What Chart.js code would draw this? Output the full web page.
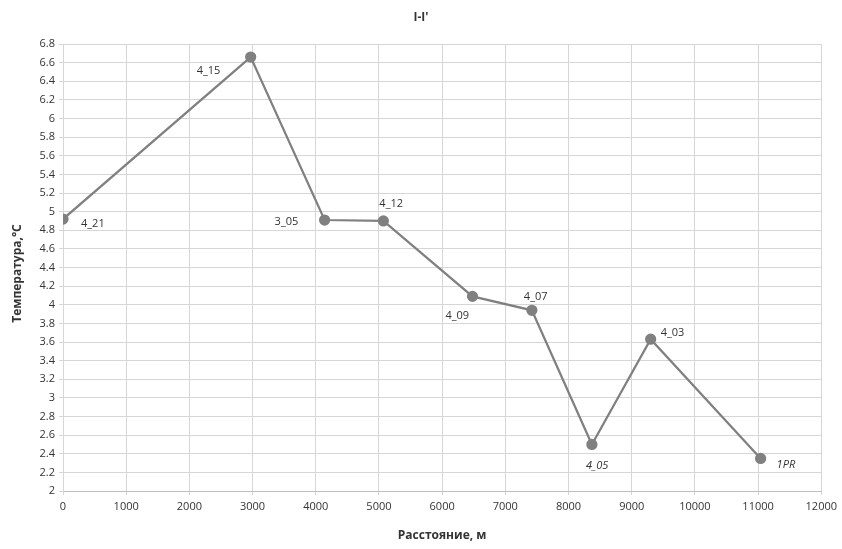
<!DOCTYPE html>
<html>
<head>
<meta charset="utf-8">
<script src="https://cdn.jsdelivr.net/npm/chart.js@4"></script>
<style>
  html, body { margin: 0; padding: 0; background: #fff; }
  #wrap { width: 842px; height: 549px; position: relative; }
</style>
</head>
<body>
<div id="wrap"><canvas id="chart-profile"></canvas></div>
<script>
// profile I-I'
const wellNames = ["4_21", "4_15", "3_05", "4_12", "4_09", "4_07", "4_05", "4_03", "1PR"];
const distances = [0, 2970, 4140, 5070, 6480, 7420, 8370, 9300, 11040];
const temperatures = [4.92, 6.66, 4.91, 4.90, 4.09, 3.94, 2.50, 3.63, 2.35];

// where each name sits relative to its point
const labelPlace = [
  { dx: 18, dy: 5, italic: false },
  { dx: -54, dy: 14, italic: false },
  { dx: -50, dy: 2, italic: false },
  { dx: -4, dy: -17, italic: false },
  { dx: -27, dy: 19, italic: false },
  { dx: -8, dy: -13, italic: false },
  { dx: -6, dy: 21, italic: true },
  { dx: 10, dy: -6, italic: false },
  { dx: 16, dy: 6, italic: true },
];

const FONT = "'Open Sans', 'Liberation Sans', sans-serif";
const GRID = "#d6d6d6";
const LINE = "#808080";
const TEXT = "#333333";

function el(id) {
  return document.getElementById(id);
}

const pointLabels = {
  id: "pointLabels",
  afterDatasetsDraw(chart) {
    const ctx = chart.ctx;
    const meta = chart.getDatasetMeta(0);
    ctx.save();
    ctx.fillStyle = TEXT;
    ctx.textBaseline = "middle";
    ctx.textAlign = "left";
    meta.data.forEach((pt, i) => {
      const p = labelPlace[i];
      ctx.font = (p.italic ? "italic " : "") + "11px " + FONT;
      ctx.fillText(wellNames[i], pt.x + p.dx, pt.y + p.dy);
    });
    ctx.restore();
  },
};

const titles = {
  id: "titles",
  afterDraw(chart) {
    const ctx = chart.ctx;
    const a = chart.chartArea;
    ctx.save();
    ctx.fillStyle = TEXT;
    ctx.textAlign = "center";
    ctx.textBaseline = "middle";
    ctx.font = "bold 12px " + FONT;
    ctx.fillText("I-I'", 421, 18);
    ctx.fillText("Расстояние, м", (a.left + a.right) / 2, 536);
    ctx.translate(18, (a.top + a.bottom) / 2 + 6);
    ctx.rotate(-Math.PI / 2);
    ctx.fillText("Температура,°C", 0, 0);
    ctx.restore();
  },
};

function initChart() {
  const ctx = el("chart-profile").getContext("2d");
  return new Chart(ctx, {
    type: "scatter",
    data: {
      datasets: [
        {
          data: distances.map((d, i) => ({ x: d, y: temperatures[i] })),
          showLine: true,
          borderColor: LINE,
          borderWidth: 2.25,
          backgroundColor: LINE,
          pointBackgroundColor: LINE,
          pointBorderColor: LINE,
          pointRadius: 4.5,
          tension: 0,
        },
      ],
    },
    options: {
      responsive: true,
      maintainAspectRatio: false,
      animation: false,
      layout: { padding: { top: 44, right: 19, left: 0, bottom: 0 } },
      plugins: {
        legend: { display: false },
        tooltip: { enabled: false },
      },
      scales: {
        x: {
          type: "linear",
          min: 0,
          max: 12000,
          afterFit: (s) => { s.height = 58; },
          ticks: {
            stepSize: 1000,
            color: TEXT,
            padding: 5,
            maxRotation: 0,
            font: { family: FONT, size: 11 },
            callback: (v) => String(v),
          },
          grid: { color: GRID, tickLength: 4, lineWidth: 1 },
          border: { color: "#bfbfbf" },
        },
        y: {
          type: "linear",
          min: 2,
          max: 6.8,
          afterFit: (s) => { s.width = 63; },
          ticks: {
            stepSize: 0.2,
            color: TEXT,
            padding: 4,
            font: { family: FONT, size: 11 },
            callback: (v) => String(Number(v.toFixed(1))),
          },
          grid: { color: GRID, tickLength: 4, lineWidth: 1 },
          border: { color: GRID },
        },
      },
    },
    plugins: [pointLabels, titles],
  });
}

initChart();
</script>
</body>
</html>
